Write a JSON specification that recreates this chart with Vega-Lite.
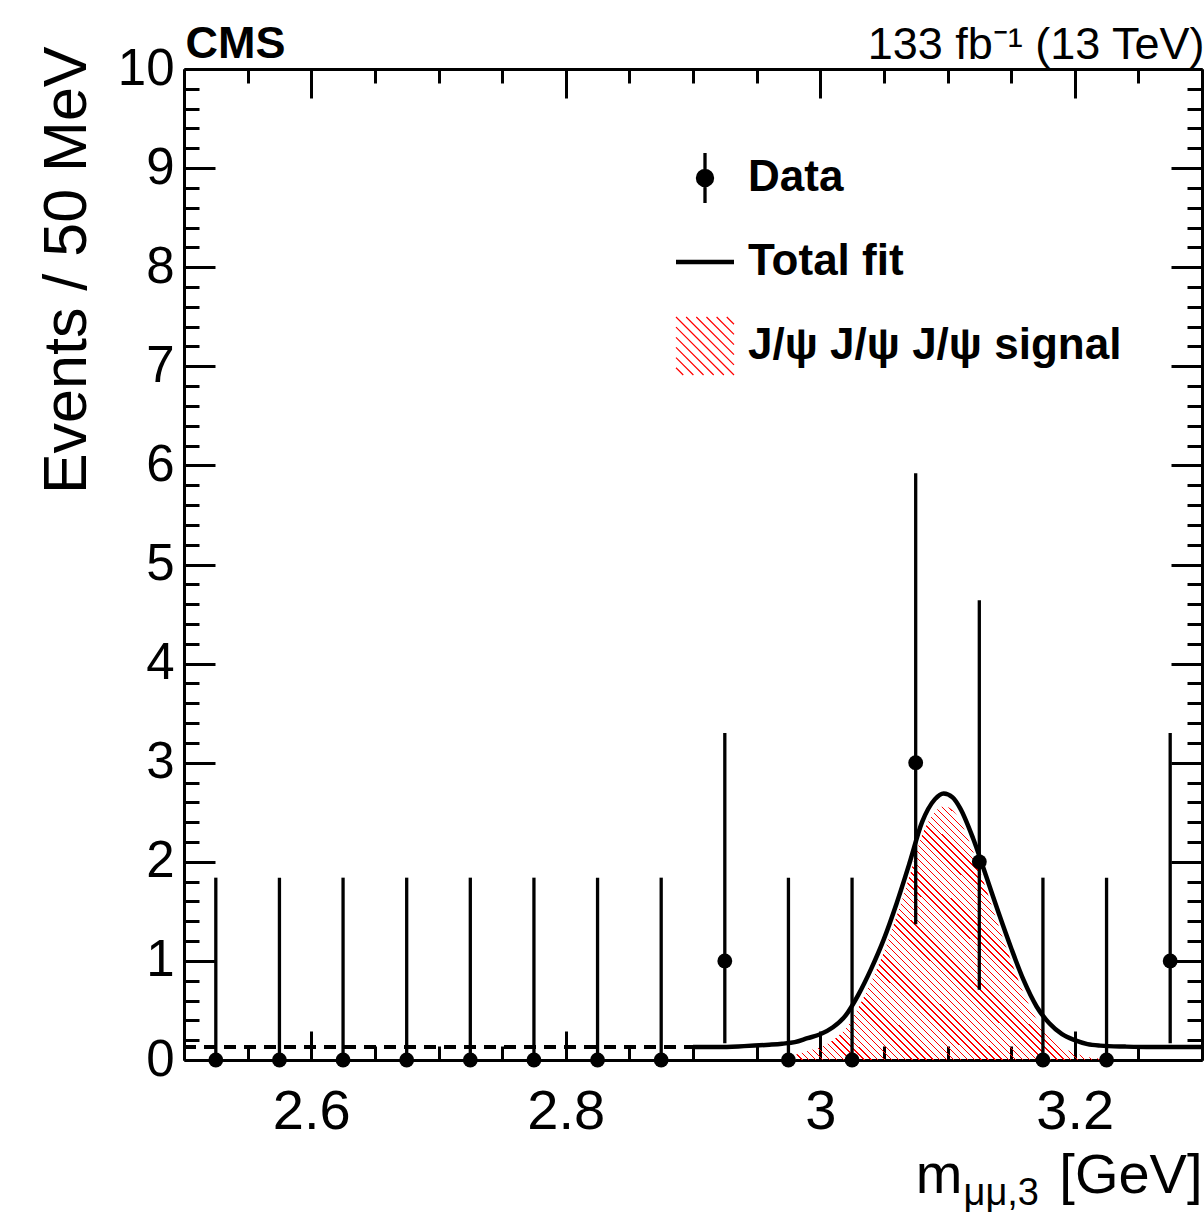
{
  "$schema": "https://vega.github.io/schema/vega-lite/v6.json",
  "autosize": {"type": "none"},
  "padding": {"left": 184, "top": 69, "right": 2, "bottom": 154},
  "width": 1018,
  "height": 991,
  "background": "white",
  "config": {
    "font": "Liberation Sans",
    "view": {"stroke": null},
    "axis": {"labelFont": "Liberation Sans", "titleFont": "Liberation Sans", "domainColor": "black", "tickColor": "black", "labelColor": "black", "titleColor": "black", "domainWidth": 3, "tickWidth": 3, "grid": false, "labelFlush": false, "labelOverlap": false, "labelBound": false, "titleFontWeight": "normal"}
  },
  "datasets": {
    "hist": [
      {"m": 2.525, "n": 0, "lo": 0, "hi": 1.84, "series": "Data"},
      {"m": 2.575, "n": 0, "lo": 0, "hi": 1.84, "series": "Data"},
      {"m": 2.625, "n": 0, "lo": 0, "hi": 1.84, "series": "Data"},
      {"m": 2.675, "n": 0, "lo": 0, "hi": 1.84, "series": "Data"},
      {"m": 2.725, "n": 0, "lo": 0, "hi": 1.84, "series": "Data"},
      {"m": 2.775, "n": 0, "lo": 0, "hi": 1.84, "series": "Data"},
      {"m": 2.825, "n": 0, "lo": 0, "hi": 1.84, "series": "Data"},
      {"m": 2.875, "n": 0, "lo": 0, "hi": 1.84, "series": "Data"},
      {"m": 2.925, "n": 1, "lo": 0.17, "hi": 3.3, "series": "Data"},
      {"m": 2.975, "n": 0, "lo": 0, "hi": 1.84, "series": "Data"},
      {"m": 3.025, "n": 0, "lo": 0, "hi": 1.84, "series": "Data"},
      {"m": 3.075, "n": 3, "lo": 1.37, "hi": 5.92, "series": "Data"},
      {"m": 3.125, "n": 2, "lo": 0.71, "hi": 4.64, "series": "Data"},
      {"m": 3.175, "n": 0, "lo": 0, "hi": 1.84, "series": "Data"},
      {"m": 3.225, "n": 0, "lo": 0, "hi": 1.84, "series": "Data"},
      {"m": 3.275, "n": 1, "lo": 0.17, "hi": 3.3, "series": "Data"}
    ],
    "bkg": [
      {"m": 2.5, "f": 0.13},
      {"m": 2.9, "f": 0.13}
    ],
    "fit": [
      {"m": 2.9, "f": 0.13}, {"m": 2.92, "f": 0.13}, {"m": 2.94, "f": 0.14}, {"m": 2.96, "f": 0.155},
      {"m": 2.97, "f": 0.165}, {"m": 2.98, "f": 0.18}, {"m": 2.99, "f": 0.22}, {"m": 3.0, "f": 0.26},
      {"m": 3.01, "f": 0.33}, {"m": 3.02, "f": 0.45}, {"m": 3.03, "f": 0.66}, {"m": 3.04, "f": 0.92},
      {"m": 3.05, "f": 1.22}, {"m": 3.06, "f": 1.58}, {"m": 3.07, "f": 1.98}, {"m": 3.08, "f": 2.4},
      {"m": 3.09, "f": 2.63}, {"m": 3.097, "f": 2.69}, {"m": 3.104, "f": 2.65}, {"m": 3.11, "f": 2.54},
      {"m": 3.12, "f": 2.24}, {"m": 3.13, "f": 1.87}, {"m": 3.14, "f": 1.49}, {"m": 3.15, "f": 1.13},
      {"m": 3.16, "f": 0.8}, {"m": 3.17, "f": 0.54}, {"m": 3.18, "f": 0.37}, {"m": 3.19, "f": 0.26},
      {"m": 3.2, "f": 0.2}, {"m": 3.21, "f": 0.16}, {"m": 3.22, "f": 0.145}, {"m": 3.24, "f": 0.135},
      {"m": 3.26, "f": 0.13}, {"m": 3.3, "f": 0.13}
    ],
    "sig": [
      {"m": 2.98, "s": 0.05}, {"m": 2.99, "s": 0.09}, {"m": 3.0, "s": 0.13}, {"m": 3.01, "s": 0.2},
      {"m": 3.02, "s": 0.32}, {"m": 3.03, "s": 0.53}, {"m": 3.04, "s": 0.79}, {"m": 3.05, "s": 1.09},
      {"m": 3.06, "s": 1.45}, {"m": 3.07, "s": 1.85}, {"m": 3.08, "s": 2.27}, {"m": 3.09, "s": 2.5},
      {"m": 3.097, "s": 2.56}, {"m": 3.104, "s": 2.52}, {"m": 3.11, "s": 2.41}, {"m": 3.12, "s": 2.11},
      {"m": 3.13, "s": 1.74}, {"m": 3.14, "s": 1.36}, {"m": 3.15, "s": 1.0}, {"m": 3.16, "s": 0.67},
      {"m": 3.17, "s": 0.41}, {"m": 3.18, "s": 0.24}, {"m": 3.19, "s": 0.13}, {"m": 3.2, "s": 0.07},
      {"m": 3.21, "s": 0.03}, {"m": 3.22, "s": 0.015}
    ]
  },
  "resolve": {"axis": {"x": "independent", "y": "independent"}},
  "layer": [
    {
      "data": {"name": "sig"},
      "mark": {
        "type": "area", "interpolate": "monotone", "opacity": 1, "stroke": null,
        "fill": {
          "gradient": "linear", "x1": 0, "y1": 1, "x2": 0.8, "y2": 0.334,
          "stops": [
            {"offset": 0, "color": "red"}, {"offset": 0.0034, "color": "red"}, {"offset": 0.0034, "color": "transparent"}, {"offset": 0.0167, "color": "transparent"},
            {"offset": 0.0167, "color": "red"}, {"offset": 0.0201, "color": "red"}, {"offset": 0.0201, "color": "transparent"}, {"offset": 0.0333, "color": "transparent"},
            {"offset": 0.0333, "color": "red"}, {"offset": 0.0367, "color": "red"}, {"offset": 0.0367, "color": "transparent"}, {"offset": 0.05, "color": "transparent"},
            {"offset": 0.05, "color": "red"}, {"offset": 0.0534, "color": "red"}, {"offset": 0.0534, "color": "transparent"}, {"offset": 0.0667, "color": "transparent"},
            {"offset": 0.0667, "color": "red"}, {"offset": 0.0701, "color": "red"}, {"offset": 0.0701, "color": "transparent"}, {"offset": 0.0833, "color": "transparent"},
            {"offset": 0.0833, "color": "red"}, {"offset": 0.0867, "color": "red"}, {"offset": 0.0867, "color": "transparent"}, {"offset": 0.1, "color": "transparent"},
            {"offset": 0.1, "color": "red"}, {"offset": 0.1034, "color": "red"}, {"offset": 0.1034, "color": "transparent"}, {"offset": 0.1167, "color": "transparent"},
            {"offset": 0.1167, "color": "red"}, {"offset": 0.1201, "color": "red"}, {"offset": 0.1201, "color": "transparent"}, {"offset": 0.1333, "color": "transparent"},
            {"offset": 0.1333, "color": "red"}, {"offset": 0.1367, "color": "red"}, {"offset": 0.1367, "color": "transparent"}, {"offset": 0.15, "color": "transparent"},
            {"offset": 0.15, "color": "red"}, {"offset": 0.1534, "color": "red"}, {"offset": 0.1534, "color": "transparent"}, {"offset": 0.1667, "color": "transparent"},
            {"offset": 0.1667, "color": "red"}, {"offset": 0.1701, "color": "red"}, {"offset": 0.1701, "color": "transparent"}, {"offset": 0.1833, "color": "transparent"},
            {"offset": 0.1833, "color": "red"}, {"offset": 0.1867, "color": "red"}, {"offset": 0.1867, "color": "transparent"}, {"offset": 0.2, "color": "transparent"},
            {"offset": 0.2, "color": "red"}, {"offset": 0.2034, "color": "red"}, {"offset": 0.2034, "color": "transparent"}, {"offset": 0.2167, "color": "transparent"},
            {"offset": 0.2167, "color": "red"}, {"offset": 0.2201, "color": "red"}, {"offset": 0.2201, "color": "transparent"}, {"offset": 0.2333, "color": "transparent"},
            {"offset": 0.2333, "color": "red"}, {"offset": 0.2367, "color": "red"}, {"offset": 0.2367, "color": "transparent"}, {"offset": 0.25, "color": "transparent"},
            {"offset": 0.25, "color": "red"}, {"offset": 0.2534, "color": "red"}, {"offset": 0.2534, "color": "transparent"}, {"offset": 0.2667, "color": "transparent"},
            {"offset": 0.2667, "color": "red"}, {"offset": 0.2701, "color": "red"}, {"offset": 0.2701, "color": "transparent"}, {"offset": 0.2833, "color": "transparent"},
            {"offset": 0.2833, "color": "red"}, {"offset": 0.2867, "color": "red"}, {"offset": 0.2867, "color": "transparent"}, {"offset": 0.3, "color": "transparent"},
            {"offset": 0.3, "color": "red"}, {"offset": 0.3034, "color": "red"}, {"offset": 0.3034, "color": "transparent"}, {"offset": 0.3167, "color": "transparent"},
            {"offset": 0.3167, "color": "red"}, {"offset": 0.3201, "color": "red"}, {"offset": 0.3201, "color": "transparent"}, {"offset": 0.3333, "color": "transparent"},
            {"offset": 0.3333, "color": "red"}, {"offset": 0.3367, "color": "red"}, {"offset": 0.3367, "color": "transparent"}, {"offset": 0.35, "color": "transparent"},
            {"offset": 0.35, "color": "red"}, {"offset": 0.3534, "color": "red"}, {"offset": 0.3534, "color": "transparent"}, {"offset": 0.3667, "color": "transparent"},
            {"offset": 0.3667, "color": "red"}, {"offset": 0.3701, "color": "red"}, {"offset": 0.3701, "color": "transparent"}, {"offset": 0.3833, "color": "transparent"},
            {"offset": 0.3833, "color": "red"}, {"offset": 0.3867, "color": "red"}, {"offset": 0.3867, "color": "transparent"}, {"offset": 0.4, "color": "transparent"},
            {"offset": 0.4, "color": "red"}, {"offset": 0.4034, "color": "red"}, {"offset": 0.4034, "color": "transparent"}, {"offset": 0.4167, "color": "transparent"},
            {"offset": 0.4167, "color": "red"}, {"offset": 0.4201, "color": "red"}, {"offset": 0.4201, "color": "transparent"}, {"offset": 0.4333, "color": "transparent"},
            {"offset": 0.4333, "color": "red"}, {"offset": 0.4367, "color": "red"}, {"offset": 0.4367, "color": "transparent"}, {"offset": 0.45, "color": "transparent"},
            {"offset": 0.45, "color": "red"}, {"offset": 0.4534, "color": "red"}, {"offset": 0.4534, "color": "transparent"}, {"offset": 0.4667, "color": "transparent"},
            {"offset": 0.4667, "color": "red"}, {"offset": 0.4701, "color": "red"}, {"offset": 0.4701, "color": "transparent"}, {"offset": 0.4833, "color": "transparent"},
            {"offset": 0.4833, "color": "red"}, {"offset": 0.4867, "color": "red"}, {"offset": 0.4867, "color": "transparent"}, {"offset": 0.5, "color": "transparent"},
            {"offset": 0.5, "color": "red"}, {"offset": 0.5034, "color": "red"}, {"offset": 0.5034, "color": "transparent"}, {"offset": 0.5167, "color": "transparent"},
            {"offset": 0.5167, "color": "red"}, {"offset": 0.5201, "color": "red"}, {"offset": 0.5201, "color": "transparent"}, {"offset": 0.5333, "color": "transparent"},
            {"offset": 0.5333, "color": "red"}, {"offset": 0.5367, "color": "red"}, {"offset": 0.5367, "color": "transparent"}, {"offset": 0.55, "color": "transparent"},
            {"offset": 0.55, "color": "red"}, {"offset": 0.5534, "color": "red"}, {"offset": 0.5534, "color": "transparent"}, {"offset": 0.5667, "color": "transparent"},
            {"offset": 0.5667, "color": "red"}, {"offset": 0.5701, "color": "red"}, {"offset": 0.5701, "color": "transparent"}, {"offset": 0.5833, "color": "transparent"},
            {"offset": 0.5833, "color": "red"}, {"offset": 0.5867, "color": "red"}, {"offset": 0.5867, "color": "transparent"}, {"offset": 0.6, "color": "transparent"},
            {"offset": 0.6, "color": "red"}, {"offset": 0.6034, "color": "red"}, {"offset": 0.6034, "color": "transparent"}, {"offset": 0.6167, "color": "transparent"},
            {"offset": 0.6167, "color": "red"}, {"offset": 0.6201, "color": "red"}, {"offset": 0.6201, "color": "transparent"}, {"offset": 0.6333, "color": "transparent"},
            {"offset": 0.6333, "color": "red"}, {"offset": 0.6367, "color": "red"}, {"offset": 0.6367, "color": "transparent"}, {"offset": 0.65, "color": "transparent"},
            {"offset": 0.65, "color": "red"}, {"offset": 0.6534, "color": "red"}, {"offset": 0.6534, "color": "transparent"}, {"offset": 0.6667, "color": "transparent"},
            {"offset": 0.6667, "color": "red"}, {"offset": 0.6701, "color": "red"}, {"offset": 0.6701, "color": "transparent"}, {"offset": 0.6833, "color": "transparent"},
            {"offset": 0.6833, "color": "red"}, {"offset": 0.6867, "color": "red"}, {"offset": 0.6867, "color": "transparent"}, {"offset": 0.7, "color": "transparent"},
            {"offset": 0.7, "color": "red"}, {"offset": 0.7034, "color": "red"}, {"offset": 0.7034, "color": "transparent"}, {"offset": 0.7167, "color": "transparent"},
            {"offset": 0.7167, "color": "red"}, {"offset": 0.7201, "color": "red"}, {"offset": 0.7201, "color": "transparent"}, {"offset": 0.7333, "color": "transparent"},
            {"offset": 0.7333, "color": "red"}, {"offset": 0.7367, "color": "red"}, {"offset": 0.7367, "color": "transparent"}, {"offset": 0.75, "color": "transparent"},
            {"offset": 0.75, "color": "red"}, {"offset": 0.7534, "color": "red"}, {"offset": 0.7534, "color": "transparent"}, {"offset": 0.7667, "color": "transparent"},
            {"offset": 0.7667, "color": "red"}, {"offset": 0.7701, "color": "red"}, {"offset": 0.7701, "color": "transparent"}, {"offset": 0.7833, "color": "transparent"},
            {"offset": 0.7833, "color": "red"}, {"offset": 0.7867, "color": "red"}, {"offset": 0.7867, "color": "transparent"}, {"offset": 0.8, "color": "transparent"},
            {"offset": 0.8, "color": "red"}, {"offset": 0.8034, "color": "red"}, {"offset": 0.8034, "color": "transparent"}, {"offset": 0.8167, "color": "transparent"},
            {"offset": 0.8167, "color": "red"}, {"offset": 0.8201, "color": "red"}, {"offset": 0.8201, "color": "transparent"}, {"offset": 0.8333, "color": "transparent"},
            {"offset": 0.8333, "color": "red"}, {"offset": 0.8367, "color": "red"}, {"offset": 0.8367, "color": "transparent"}, {"offset": 0.85, "color": "transparent"},
            {"offset": 0.85, "color": "red"}, {"offset": 0.8534, "color": "red"}, {"offset": 0.8534, "color": "transparent"}, {"offset": 0.8667, "color": "transparent"},
            {"offset": 0.8667, "color": "red"}, {"offset": 0.8701, "color": "red"}, {"offset": 0.8701, "color": "transparent"}, {"offset": 0.8833, "color": "transparent"},
            {"offset": 0.8833, "color": "red"}, {"offset": 0.8867, "color": "red"}, {"offset": 0.8867, "color": "transparent"}, {"offset": 0.9, "color": "transparent"},
            {"offset": 0.9, "color": "red"}, {"offset": 0.9034, "color": "red"}, {"offset": 0.9034, "color": "transparent"}, {"offset": 0.9167, "color": "transparent"},
            {"offset": 0.9167, "color": "red"}, {"offset": 0.9201, "color": "red"}, {"offset": 0.9201, "color": "transparent"}, {"offset": 0.9333, "color": "transparent"},
            {"offset": 0.9333, "color": "red"}, {"offset": 0.9367, "color": "red"}, {"offset": 0.9367, "color": "transparent"}, {"offset": 0.95, "color": "transparent"},
            {"offset": 0.95, "color": "red"}, {"offset": 0.9534, "color": "red"}, {"offset": 0.9534, "color": "transparent"}, {"offset": 0.9667, "color": "transparent"},
            {"offset": 0.9667, "color": "red"}, {"offset": 0.9701, "color": "red"}, {"offset": 0.9701, "color": "transparent"}, {"offset": 0.9833, "color": "transparent"},
            {"offset": 0.9833, "color": "red"}, {"offset": 0.9867, "color": "red"}, {"offset": 0.9867, "color": "transparent"}, {"offset": 1, "color": "transparent"}
          ]
        }
      },
      "encoding": {
        "x": {
          "field": "m", "type": "quantitative",
          "scale": {"domain": [2.5, 3.3], "nice": false, "zero": false},
          "axis": {
            "orient": "bottom",
            "values": [2.5, 2.55, 2.6, 2.65, 2.7, 2.75, 2.8, 2.85, 2.9, 2.95, 3, 3.05, 3.1, 3.15, 3.2, 3.25, 3.3],
            "labelExpr": "abs(datum.value*5-round(datum.value*5)) < 0.001 ? format(datum.value, '~g') : ''",
            "tickSize": {"condition": {"test": "abs(datum.value*5-round(datum.value*5)) < 0.001", "value": -29}, "value": -14},
            "labelPadding": 53,
            "labelFontSize": 56,
            "title": "[GeV]",
            "titleFontSize": 56,
            "titleAlign": "right",
            "titleBaseline": "alphabetic",
            "titleX": 1018,
            "titleY": 132
          }
        },
        "y": {
          "field": "s", "type": "quantitative",
          "scale": {"domain": [0, 10], "nice": false, "zero": true},
          "axis": {
            "orient": "left",
            "values": [0, 0.2, 0.4, 0.6, 0.8, 1, 1.2, 1.4, 1.6, 1.8, 2, 2.2, 2.4, 2.6, 2.8, 3, 3.2, 3.4, 3.6, 3.8, 4, 4.2, 4.4, 4.6, 4.8, 5, 5.2, 5.4, 5.6, 5.8, 6, 6.2, 6.4, 6.6, 6.8, 7, 7.2, 7.4, 7.6, 7.8, 8, 8.2, 8.4, 8.6, 8.8, 9, 9.2, 9.4, 9.6, 9.8, 10],
            "labelExpr": "abs(datum.value-round(datum.value)) < 0.001 ? format(datum.value, 'd') : ''",
            "tickSize": {"condition": {"test": "abs(datum.value-round(datum.value)) < 0.001", "value": -31}, "value": -15},
            "labelPadding": 41,
            "labelFontSize": 51,
            "title": "Events / 50 MeV",
            "titleFontSize": 61,
            "titleAngle": -90,
            "titleAlign": "right",
            "titleBaseline": "alphabetic",
            "titleX": -99,
            "titleY": -23
          }
        }
      }
    },
    {
      "data": {"name": "bkg"},
      "mark": {"type": "line", "color": "black", "strokeWidth": 4, "strokeDash": [12, 8]},
      "encoding": {
        "x": {
          "field": "m", "type": "quantitative",
          "scale": {"domain": [2.5, 3.3], "nice": false, "zero": false},
          "axis": {
            "orient": "top",
            "values": [2.5, 2.55, 2.6, 2.65, 2.7, 2.75, 2.8, 2.85, 2.9, 2.95, 3, 3.05, 3.1, 3.15, 3.2, 3.25, 3.3],
            "labels": false,
            "tickSize": {"condition": {"test": "abs(datum.value*5-round(datum.value*5)) < 0.001", "value": -29}, "value": -14},
            "title": "133 fb\u207b\u00b9 (13 TeV)",
            "titleFontSize": 45,
            "titleAlign": "right",
            "titleBaseline": "alphabetic",
            "titleX": 1020,
            "titleY": -11
          }
        },
        "y": {
          "field": "f", "type": "quantitative",
          "scale": {"domain": [0, 10], "nice": false, "zero": true},
          "axis": {
            "orient": "right",
            "values": [0, 0.2, 0.4, 0.6, 0.8, 1, 1.2, 1.4, 1.6, 1.8, 2, 2.2, 2.4, 2.6, 2.8, 3, 3.2, 3.4, 3.6, 3.8, 4, 4.2, 4.4, 4.6, 4.8, 5, 5.2, 5.4, 5.6, 5.8, 6, 6.2, 6.4, 6.6, 6.8, 7, 7.2, 7.4, 7.6, 7.8, 8, 8.2, 8.4, 8.6, 8.8, 9, 9.2, 9.4, 9.6, 9.8, 10],
            "labels": false,
            "tickSize": {"condition": {"test": "abs(datum.value-round(datum.value)) < 0.001", "value": -31}, "value": -15},
            "title": "CMS",
            "titleFontSize": 45,
            "titleFontWeight": "bold",
            "titleAngle": 0,
            "titleAlign": "left",
            "titleBaseline": "alphabetic",
            "titleX": -1017,
            "titleY": -12
          }
        }
      }
    },
    {
      "data": {"name": "fit"},
      "mark": {"type": "line", "color": "black", "strokeWidth": 4.5, "interpolate": "monotone"},
      "encoding": {
        "x": {
          "field": "m", "type": "quantitative",
          "scale": {"domain": [2.5, 3.3], "nice": false, "zero": false},
          "axis": {
            "orient": "bottom",
            "domain": false, "ticks": false, "labels": false,
            "title": "\u03bc\u03bc,3",
            "titleFontSize": 38,
            "titleAlign": "left",
            "titleBaseline": "alphabetic",
            "titleX": 779,
            "titleY": 144
          }
        },
        "y": {
          "field": "f", "type": "quantitative",
          "scale": {"domain": [0, 10], "nice": false, "zero": true},
          "axis": null
        }
      }
    },
    {
      "data": {"name": "hist"},
      "mark": {"type": "rule", "color": "black", "strokeWidth": 3.3},
      "encoding": {
        "x": {
          "field": "m", "type": "quantitative", "scale": {"domain": [2.5, 3.3], "nice": false, "zero": false},
          "axis": {
            "orient": "bottom",
            "domain": false, "ticks": false, "labels": false,
            "title": "m",
            "titleFontSize": 56,
            "titleAlign": "right",
            "titleBaseline": "alphabetic",
            "titleX": 778,
            "titleY": 132
          }
        },
        "y": {"field": "lo", "type": "quantitative", "scale": {"domain": [0, 10], "nice": false, "zero": true}, "axis": null},
        "y2": {"field": "hi"}
      }
    },
    {
      "data": {"name": "hist"},
      "mark": {"type": "point", "filled": true, "shape": "circle", "size": 220, "opacity": 1},
      "encoding": {
        "x": {"field": "m", "type": "quantitative", "scale": {"domain": [2.5, 3.3], "nice": false, "zero": false}, "axis": null},
        "y": {"field": "n", "type": "quantitative", "scale": {"domain": [0, 10], "nice": false, "zero": true}, "axis": null},
        "color": {
          "field": "series", "type": "nominal",
          "scale": {"domain": ["Data", "Total fit", "J/\u03c8 J/\u03c8 J/\u03c8 signal"], "range": ["black", "black", "red"]},
          "legend": {
            "orient": "none", "legendX": 499, "legendY": 87,
            "title": null, "padding": 0,
            "labelFont": "Liberation Sans", "labelFontWeight": "bold", "labelFontSize": 44, "labelColor": "black", "labelLimit": 800,
            "labelOffset": 21, "rowPadding": 30, "symbolSize": 3364,
            "symbolType": {"expr": "datum.value === 'Data' ? 'M0,-0.86L0,0.86M-0.26,0A0.26,0.26 0 1,0 0.26,0A0.26,0.26 0 1,0 -0.26,0Z' : datum.value === 'Total fit' ? 'M-1,0L1,0' : 'M0.75,-1L1,-0.75M0.4,-1L1,-0.4M0.05,-1L1,-0.05M-0.3,-1L1,0.3M-0.65,-1L1,0.65M-1,-1L1,1M-1,-0.65L0.65,1M-1,-0.3L0.3,1M-1,0.05L-0.05,1M-1,0.4L-0.4,1M-1,0.75L-0.75,1'"},
            "symbolStrokeColor": {"expr": "datum.value === 'Data' || datum.value === 'Total fit' ? 'black' : 'red'"},
            "symbolStrokeWidth": {"expr": "datum.value === 'Data' ? 3.3 : datum.value === 'Total fit' ? 4.5 : 1.2"},
            "symbolOpacity": 1
          }
        }
      }
    }
  ]
}
